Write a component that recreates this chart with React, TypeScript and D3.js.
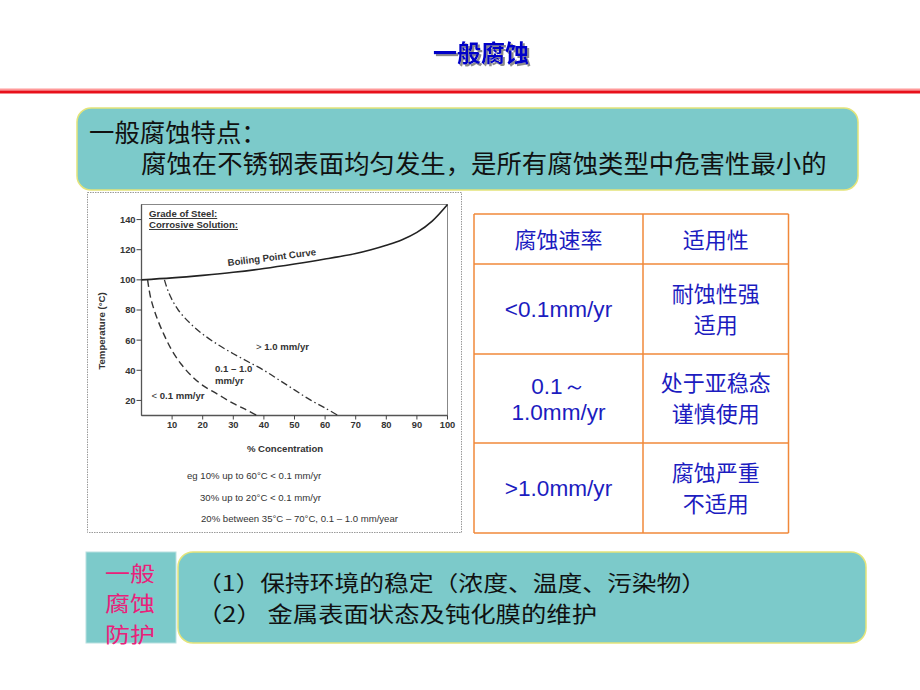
import React from 'react';
import * as d3 from 'd3';

// ---- chart data ----
const xTicks = [10, 20, 30, 40, 50, 60, 70, 80, 90, 100];
const yTicks = [20, 40, 60, 80, 100, 120, 140];
const boilingPoint: [number, number][] = [
  [0, 100], [10, 101.3], [20, 103], [30, 105], [40, 107.5], [50, 110.5], [60, 113.8],
  [70, 117.5], [75, 120], [80, 123], [85, 126.5], [90, 131.5], [95, 139], [100, 150],
];
const lowRateLimit: [number, number][] = [
  [2, 100], [3, 88], [5, 75], [7.5, 63], [10, 53], [13, 44], [16, 37], [20, 30],
  [25, 24], [30, 18], [34, 14], [37.5, 10.3],
];
const highRateLimit: [number, number][] = [
  [7.5, 100], [9, 91], [12, 80], [16, 71], [20, 64], [25, 57], [30, 51], [35, 45.5],
  [40, 40], [45, 33.5], [50, 27], [55, 20.5], [60, 15], [64, 10.3],
];
const notes = [
  'eg 10% up to 60°C < 0.1 mm/yr',
  '30% up to 20°C < 0.1 mm/yr',
  '20% between 35°C – 70°C, 0.1 – 1.0 mm/year',
];

// ---- table data ----
const tableHeader = ['腐蚀速率', '适用性'];
const rateLabels = [['<0.1mm/yr'], ['0.1～', '1.0mm/yr'], ['>1.0mm/yr']];
const suitLabels = [['耐蚀性强', '适用'], ['处于亚稳态', '谨慎使用'], ['腐蚀严重', '不适用']];

// ---- slide texts ----
const title = '一般腐蚀';
const featureLines = ['一般腐蚀特点：', '腐蚀在不锈钢表面均匀发生，是所有腐蚀类型中危害性最小的'];
const protectLabel = ['一般', '腐蚀', '防护'];
const protectLines = ['（1）保持环境的稳定（浓度、温度、污染物）', '（2） 金属表面状态及钝化膜的维护'];

const CJK = '"Noto Sans CJK SC", sans-serif';
const LAT = '"Liberation Sans", Arial, sans-serif';
const TEAL = '#7ccaca';
const INK = '#333';

export default function App() {
  const x = d3.scaleLinear().domain([0, 100]).range([141.5, 447.5]);
  const y = d3.scaleLinear().domain([10, 150]).range([415.5, 204.5]);
  const line = d3.line<[number, number]>().x(d => x(d[0])).y(d => y(d[1])).curve(d3.curveCatmullRom);

  const rowTops = [214, 264, 354, 443, 533];
  const colX = [474, 643, 788.5];
  const c1 = (colX[0] + colX[1]) / 2;
  const c2 = (colX[1] + colX[2]) / 2;
  const FS = 9.6;

  return (
    <svg width={920} height={690} style={{ position: 'absolute', left: 0, top: 0 }}>
      <defs>
        <filter id="tshadow" x="-10%" y="-20%" width="130%" height="150%">
          <feDropShadow dx={2} dy={2} stdDeviation={0.6} floodColor="#8a8a8a" floodOpacity={1} />
        </filter>
      </defs>
      <rect x={0} y={0} width={920} height={690} fill="#ffffff" />
      {/* title */}
      <text x={481} y={62} textAnchor="middle" fontFamily={CJK} fontWeight="bold" fontSize={24} fill="#0000c8" filter="url(#tshadow)">{title}</text>
      {/* red rule */}
      <rect x={0} y={88.5} width={920} height={2} fill="#ff9a9a" />
      <rect x={0} y={90.5} width={920} height={3} fill="#e8101a" />

      {/* feature box */}
      <rect x={77} y={108} width={781} height={82} rx={14} fill={TEAL} stroke="#e4e47a" strokeWidth={1.5} />
      <text x={89} y={142} fontFamily={CJK} fontSize={25.4} fill="#111">{featureLines[0]}</text>
      <text x={141} y={173} fontFamily={CJK} fontSize={25.4} fill="#111">{featureLines[1]}</text>

      {/* chart image */}
      <rect x={87.5} y={192.5} width={374} height={340} fill="#fff" stroke="#9a9a9a" strokeDasharray="1.5,1" />
      <g fontFamily={LAT}>
        <rect x={x(0)} y={y(150)} width={x(100) - x(0)} height={y(10) - y(150)} fill="none" stroke="#888" strokeWidth={1} />
        <line x1={x(0)} x2={x(100)} y1={y(10)} y2={y(10)} stroke="#555" strokeWidth={1.3} />
        <line x1={x(0)} x2={x(0)} y1={y(10)} y2={y(150)} stroke="#555" strokeWidth={1.3} />
        {yTicks.map(t => (
          <g key={'y' + t}>
            <line x1={x(0) - 5} x2={x(0)} y1={y(t)} y2={y(t)} stroke="#444" />
            <text x={x(0) - 6} y={y(t) + 3.4} textAnchor="end" fontSize={9.3} fontWeight="bold" fill={INK}>{t}</text>
          </g>
        ))}
        {xTicks.map(t => (
          <g key={'x' + t}>
            <line x1={x(t)} x2={x(t)} y1={y(10)} y2={y(10) + 4} stroke="#444" />
            <text x={x(t)} y={427.5} textAnchor="middle" fontSize={9.3} fontWeight="bold" fill={INK}>{t}</text>
          </g>
        ))}
        <text transform="translate(104.5,331) rotate(-90)" textAnchor="middle" fontSize={FS} fontWeight="bold" fill={INK}>Temperature (°C)</text>
        <text x={285} y={452} textAnchor="middle" fontSize={FS} fontWeight="bold" fill={INK}>% Concentration</text>

        <path d={line(boilingPoint) || ''} fill="none" stroke="#222" strokeWidth={1.6} />
        <path d={line(lowRateLimit) || ''} fill="none" stroke="#333" strokeWidth={1.4} strokeDasharray="7,4" />
        <path d={line(highRateLimit) || ''} fill="none" stroke="#333" strokeWidth={1.3} strokeDasharray="7,3,1.5,3" />

        <text x={149} y={217} fontSize={FS} fontWeight="bold" fill={INK} textDecoration="underline">Grade of Steel:</text>
        <text x={149} y={228} fontSize={FS} fontWeight="bold" fill={INK} textDecoration="underline">Corrosive Solution:</text>
        <text transform="translate(228,266) rotate(-7)" fontSize={FS} fontWeight="bold" fill={INK}>Boiling Point Curve</text>
        <text x={256} y={349.5} fontSize={FS} fontWeight="bold" fill={INK}>
          <tspan fontWeight="normal">&gt; </tspan>1.0 mm/yr
        </text>
        <text x={215} y={372} fontSize={FS} fontWeight="bold" fill={INK}>
          0.1 – 1.0
          <tspan x={215} dy={11.5}>mm/yr</tspan>
        </text>
        <text x={151.5} y={398.5} fontSize={FS} fontWeight="bold" fill={INK}>
          <tspan fontWeight="normal">&lt; </tspan>0.1 mm/yr
        </text>
        {notes.map((n, i) => (
          <text key={n} x={[187, 200, 201][i]} y={[478.5, 500.5, 521.5][i]} fontSize={9.6} fill={INK}>{n}</text>
        ))}
      </g>

      {/* table */}
      <g stroke="#f0883a" strokeWidth={1.5} fill="none">
        {rowTops.map(r => <line key={'r' + r} x1={colX[0]} x2={colX[2]} y1={r} y2={r} />)}
        {colX.map(c => <line key={'c' + c} x1={c} x2={c} y1={rowTops[0]} y2={rowTops[4]} />)}
      </g>
      <g fontFamily={CJK} fontSize={22} fill="#1c1cc0" textAnchor="middle">
        <text x={c1} y={248}>{tableHeader[0]}</text>
        <text x={c2} y={248}>{tableHeader[1]}</text>
        {rateLabels.map((lines, i) => {
          const mid = (rowTops[i + 1] + rowTops[i + 2]) / 2;
          const gap = 26;
          return lines.map((t, j) => (
            <text key={'ra' + i + j} x={c1} y={mid + 8 + (j - (lines.length - 1) / 2) * gap} fontFamily={LAT} fontSize={22.6}>{t}</text>
          ));
        })}
        {suitLabels.map((lines, i) => {
          const mid = (rowTops[i + 1] + rowTops[i + 2]) / 2;
          const gap = 31;
          return lines.map((t, j) => (
            <text key={'su' + i + j} x={c2} y={mid + 8 + (j - (lines.length - 1) / 2) * gap}>{t}</text>
          ));
        })}
      </g>

      {/* protection boxes */}
      <rect x={86} y={552} width={90} height={91} fill={TEAL} stroke="#b8e0e0" strokeWidth={1} />
      {protectLabel.map((t, i) => (
        <text key={t} x={105} y={580.5 + i * 30.5} fontFamily={CJK} fontSize={21} fill="#e8227a"
          textLength={50} lengthAdjust="spacingAndGlyphs">{t}</text>
      ))}
      <rect x={178} y={552} width={688} height={91} rx={15} fill={TEAL} stroke="#e4e47a" strokeWidth={1.5} />
      <text x={197} y={590.5} fontFamily={CJK} fontSize={21.2} fill="#111" textLength={509} lengthAdjust="spacingAndGlyphs">{protectLines[0]}</text>
      <text x={197} y={621.5} fontFamily={CJK} fontSize={21.2} fill="#111" textLength={400} lengthAdjust="spacingAndGlyphs">{protectLines[1]}</text>
    </svg>
  );
}
